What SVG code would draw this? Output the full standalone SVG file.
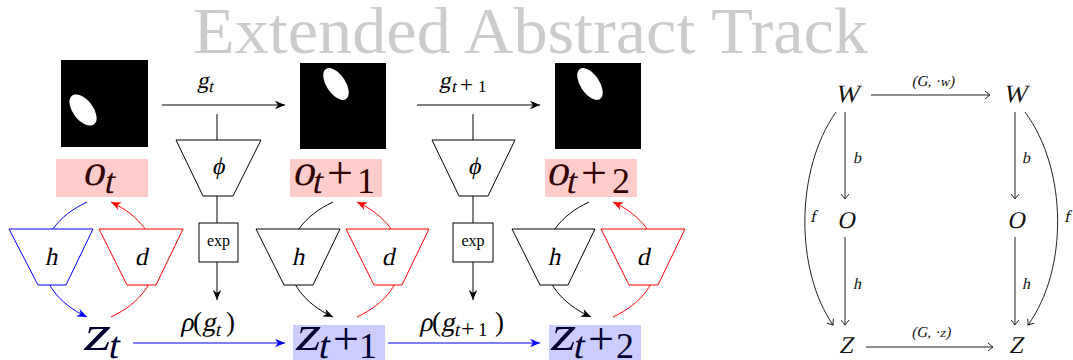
<svg xmlns="http://www.w3.org/2000/svg" width="1073" height="360" viewBox="0 0 1073 360">
<style>
text{font-family:"Liberation Serif","DejaVu Serif",serif;font-style:normal}
.ln{fill:none;stroke:#000;stroke-width:1}
.bl{fill:none;stroke:#0000ff;stroke-width:1}
.rd{fill:none;stroke:#ff0000;stroke-width:1}
.cd{fill:none;stroke:#222;stroke-width:1}
.tz{fill:#fff;stroke-width:1}
.img{fill:#000}
.ell{fill:#fff}
.pk{fill:#ffcccc}
.bx{fill:#ccccff}
.ot{fill:#300000}
.zt{fill:#000030}
.cdt{fill:#111}
</style>
<defs>
<marker id="ak" viewBox="-11 -5 12 10" refX="0" refY="0" markerWidth="12" markerHeight="10" markerUnits="userSpaceOnUse" orient="auto"><path d="M0,0 L-10,-4.2 L-7,0 L-10,4.2 Z" fill="#000"/></marker>
<marker id="ab" viewBox="-11 -5 12 10" refX="0" refY="0" markerWidth="12" markerHeight="10" markerUnits="userSpaceOnUse" orient="auto"><path d="M0,0 L-10,-4.2 L-7,0 L-10,4.2 Z" fill="#0000ff"/></marker>
<marker id="ar" viewBox="-11 -5 12 10" refX="0" refY="0" markerWidth="12" markerHeight="10" markerUnits="userSpaceOnUse" orient="auto"><path d="M0,0 L-10,-4.2 L-7,0 L-10,4.2 Z" fill="#ff0000"/></marker>
<marker id="ato" viewBox="-7 -5 8 10" refX="0" refY="0" markerWidth="8" markerHeight="10" markerUnits="userSpaceOnUse" orient="auto"><path d="M-5,-4 Q-1.2,-0.8 0,0 Q-1.2,0.8 -5,4" fill="none" stroke="#222" stroke-width="1"/></marker>
</defs>

<text id="title" x="193" y="53" font-size="66" fill="#cccccc" textLength="675" lengthAdjust="spacingAndGlyphs">Extended Abstract Track</text>

<g id="connectors">
  <line class="ln" x1="162" y1="105" x2="285" y2="105" marker-end="url(#ak)"/>
  <line class="ln" x1="417" y1="105" x2="540" y2="105" marker-end="url(#ak)"/>
  <line class="ln" x1="217" y1="114" x2="217" y2="140"/>
  <line class="ln" x1="217" y1="196" x2="217" y2="223"/>
  <line class="ln" x1="217" y1="262" x2="217" y2="300" marker-end="url(#ak)"/>
  <line class="ln" x1="473" y1="114" x2="473" y2="140"/>
  <line class="ln" x1="473" y1="196" x2="473" y2="223"/>
  <line class="ln" x1="473" y1="262" x2="473" y2="300" marker-end="url(#ak)"/>
  <line class="bl" x1="133" y1="343" x2="285" y2="343" marker-end="url(#ab)"/>
  <line class="bl" x1="388" y1="343" x2="540" y2="343" marker-end="url(#ab)"/>
  <path class="bl" d="M87,202 C28,229.5 28,289.5 87,317" marker-end="url(#ab)"/>
  <path class="rd" d="M111,317 C170,289.5 170,229.5 111,202" marker-end="url(#ar)"/>
  <path class="ln" d="M333,202 C274,229.5 274,289.5 333,317" marker-end="url(#ak)"/>
  <path class="rd" d="M357,317 C416,289.5 416,229.5 357,202" marker-end="url(#ar)"/>
  <path class="ln" d="M589,202 C530,229.5 530,289.5 591,317" marker-end="url(#ak)"/>
  <path class="rd" d="M613,317 C672,289.5 672,229.5 613,202" marker-end="url(#ar)"/>
  <line class="cd" x1="871" y1="95" x2="990" y2="95" marker-end="url(#ato)"/>
  <line class="cd" x1="866" y1="347" x2="993" y2="347" marker-end="url(#ato)"/>
  <line class="cd" x1="845" y1="112" x2="845" y2="199" marker-end="url(#ato)"/>
  <line class="cd" x1="845" y1="237" x2="845" y2="325" marker-end="url(#ato)"/>
  <line class="cd" x1="1015" y1="112" x2="1015" y2="199" marker-end="url(#ato)"/>
  <line class="cd" x1="1015" y1="237" x2="1015" y2="325" marker-end="url(#ato)"/>
  <path class="cd" d="M836,112 C795,170 795,270 833,325" marker-end="url(#ato)"/>
  <path class="cd" d="M1025,112 C1068,170 1068,270 1028,325" marker-end="url(#ato)"/>
</g>

<g id="img1"><rect class="img" x="61" y="60" width="87" height="87"/><ellipse class="ell" cx="83" cy="110" rx="18" ry="10" transform="rotate(52 83 110)"/></g>
<g id="img2"><rect class="img" x="300" y="63" width="86" height="86"/><ellipse class="ell" cx="336" cy="84" rx="18" ry="9.5" transform="rotate(56 336 84)"/></g>
<g id="img3"><rect class="img" x="555" y="63" width="86" height="86"/><ellipse class="ell" cx="590" cy="84" rx="18" ry="9.5" transform="rotate(56 590 84)"/></g>

<g id="label-g1"><g transform="matrix(1 0 -0.21 1 18.48 0)"><text font-size="23" x="197" y="88">g</text><text font-size="17" x="209" y="92">t</text></g></g>
<g id="label-g2"><g transform="matrix(1 0 -0.21 1 18.48 0)"><text font-size="23" x="439" y="88">g</text><text font-size="17" x="452" y="92">t</text></g><text font-size="23" x="460" y="92">+</text><text font-size="17" x="478" y="92">1</text></g>

<g id="phi1"><polygon class="tz" stroke="#000" points="176,140 261,140 233,196 203,196"/><text font-size="24" x="218" y="174" text-anchor="middle" transform="matrix(1 0 -0.21 1 36.54 0)">ϕ</text></g>
<g id="phi2"><polygon class="tz" stroke="#000" points="432,140 515,140 488,196 459,196"/><text font-size="24" x="474" y="174" text-anchor="middle" transform="matrix(1 0 -0.21 1 36.54 0)">ϕ</text></g>
<g id="exp1"><rect class="tz" stroke="#000" x="199" y="223" width="39" height="39"/><text font-size="16" x="218.5" y="246" text-anchor="middle">exp</text></g>
<g id="exp2"><rect class="tz" stroke="#000" x="453" y="223" width="40" height="39"/><text font-size="16" x="473" y="246" text-anchor="middle">exp</text></g>

<g id="o1"><rect class="pk" x="56" y="159" width="92" height="38"/><g transform="matrix(1 0 -0.21 1 38.85 0)"><text class="ot" font-size="44" x="82" y="185">o</text><text class="ot" font-size="36" x="105" y="193">t</text></g></g>
<g id="o2"><rect class="pk" x="290" y="159" width="92" height="38"/><g transform="matrix(1 0 -0.21 1 38.85 0)"><text class="ot" font-size="44" x="292" y="185">o</text><text class="ot" font-size="36" x="313" y="193">t</text></g><text class="ot" font-size="46" x="327" y="188">+</text><text class="ot" font-size="36" x="357" y="193">1</text></g>
<g id="o3"><rect class="pk" x="545" y="159" width="92" height="38"/><g transform="matrix(1 0 -0.21 1 38.85 0)"><text class="ot" font-size="44" x="546" y="185">o</text><text class="ot" font-size="36" x="567" y="193">t</text></g><text class="ot" font-size="46" x="581" y="188">+</text><text class="ot" font-size="36" x="612" y="193">2</text></g>

<g id="h1"><polygon class="tz" stroke="#0000ff" points="9,229 93,229 66,285 38,285"/><text font-size="25" x="51" y="265" text-anchor="middle" transform="matrix(1 0 -0.21 1 55.65 0)">h</text></g>
<g id="d1"><polygon class="tz" stroke="#ff0000" points="99,229 183,229 156,285 127,285"/><text font-size="25" x="141" y="265" text-anchor="middle" transform="matrix(1 0 -0.21 1 55.65 0)">d</text></g>
<g id="h2"><polygon class="tz" stroke="#000" points="256,229 340,229 313,285 284,285"/><text font-size="25" x="298" y="265" text-anchor="middle" transform="matrix(1 0 -0.21 1 55.65 0)">h</text></g>
<g id="d2"><polygon class="tz" stroke="#ff0000" points="346,229 429,229 402,285 374,285"/><text font-size="25" x="388" y="265" text-anchor="middle" transform="matrix(1 0 -0.21 1 55.65 0)">d</text></g>
<g id="h3"><polygon class="tz" stroke="#000" points="512,229 595,229 568,285 540,285"/><text font-size="25" x="554" y="265" text-anchor="middle" transform="matrix(1 0 -0.21 1 55.65 0)">h</text></g>
<g id="d3"><polygon class="tz" stroke="#ff0000" points="601,229 685,229 658,285 629,285"/><text font-size="25" x="643" y="265" text-anchor="middle" transform="matrix(1 0 -0.21 1 55.65 0)">d</text></g>

<g id="rho1"><g transform="matrix(1 0 -0.21 1 69.51 0)"><text font-size="27" x="180" y="331">ρ</text><text font-size="27" x="202" y="331">g</text><text font-size="19" x="216" y="336">t</text></g><text font-size="27" x="193" y="331">(</text><text font-size="27" x="226" y="331">)</text></g>
<g id="rho2"><g transform="matrix(1 0 -0.21 1 69.51 0)"><text font-size="27" x="419" y="331">ρ</text><text font-size="27" x="441" y="331">g</text><text font-size="19" x="455" y="336">t</text></g><text font-size="27" x="432" y="331">(</text><text font-size="24" x="461" y="336">+</text><text font-size="19" x="478" y="336">1</text><text font-size="27" x="495" y="331">)</text></g>

<g id="z1"><g transform="matrix(1 0 -0.21 1 73.5 0)"><text class="zt" font-size="50" x="82" y="350" textLength="27" lengthAdjust="spacingAndGlyphs">z</text><text class="zt" font-size="38" x="109" y="358">t</text></g></g>
<g id="z2"><rect class="bx" x="293" y="325" width="92" height="35"/><g transform="matrix(1 0 -0.21 1 73.5 0)"><text class="zt" font-size="50" x="294" y="350" textLength="25" lengthAdjust="spacingAndGlyphs">z</text><text class="zt" font-size="38" x="319" y="358">t</text></g><text class="zt" font-size="46" x="333" y="354">+</text><text class="zt" font-size="36" x="359" y="358">1</text></g>
<g id="z3"><rect class="bx" x="549" y="325" width="92" height="35"/><g transform="matrix(1 0 -0.21 1 73.5 0)"><text class="zt" font-size="50" x="549" y="350" textLength="25" lengthAdjust="spacingAndGlyphs">z</text><text class="zt" font-size="38" x="574" y="358">t</text></g><text class="zt" font-size="46" x="588" y="354">+</text><text class="zt" font-size="36" x="616" y="358">2</text></g>

<g id="W1"><text class="cdt" font-size="25" x="847" y="102" text-anchor="middle" transform="matrix(1 0 -0.21 1 21.42 0)">W</text></g>
<g id="W2"><text class="cdt" font-size="25" x="1015" y="102" text-anchor="middle" transform="matrix(1 0 -0.21 1 21.42 0)">W</text></g>
<g id="O1"><text class="cdt" font-size="24" x="846" y="228" text-anchor="middle" transform="matrix(1 0 -0.21 1 47.88 0)">O</text></g>
<g id="O2"><text class="cdt" font-size="24" x="1016" y="228" text-anchor="middle" transform="matrix(1 0 -0.21 1 47.88 0)">O</text></g>
<g id="Z1"><text class="cdt" font-size="24" x="846" y="353" text-anchor="middle" transform="matrix(1 0 -0.21 1 74.13 0)">Z</text></g>
<g id="Z2"><text class="cdt" font-size="24" x="1016" y="353" text-anchor="middle" transform="matrix(1 0 -0.21 1 74.13 0)">Z</text></g>
<g id="cd-labels">
  <text class="cdt" x="933" y="86" font-size="15" text-anchor="middle" transform="matrix(1 0 -0.21 1 18.06 0)">(G, ·<tspan font-size="13">w</tspan>)</text>
  <text class="cdt" x="931" y="337" font-size="15" text-anchor="middle" transform="matrix(1 0 -0.21 1 70.77 0)">(G, ·<tspan font-size="13">z</tspan>)</text>
  <g transform="matrix(1 0 -0.21 1 34.23 0)"><text class="cdt" font-size="16" x="853" y="163">b</text><text class="cdt" font-size="16" x="1022" y="163">b</text></g>
  <g transform="matrix(1 0 -0.21 1 60.69 0)"><text class="cdt" font-size="16" x="853" y="289">h</text><text class="cdt" font-size="16" x="1022" y="289">h</text></g>
  <g transform="matrix(1 0 -0.21 1 46.62 0)"><text class="cdt" font-size="17" x="810" y="222">f</text><text class="cdt" font-size="17" x="1064" y="222">f</text></g>
</g>
</svg>
